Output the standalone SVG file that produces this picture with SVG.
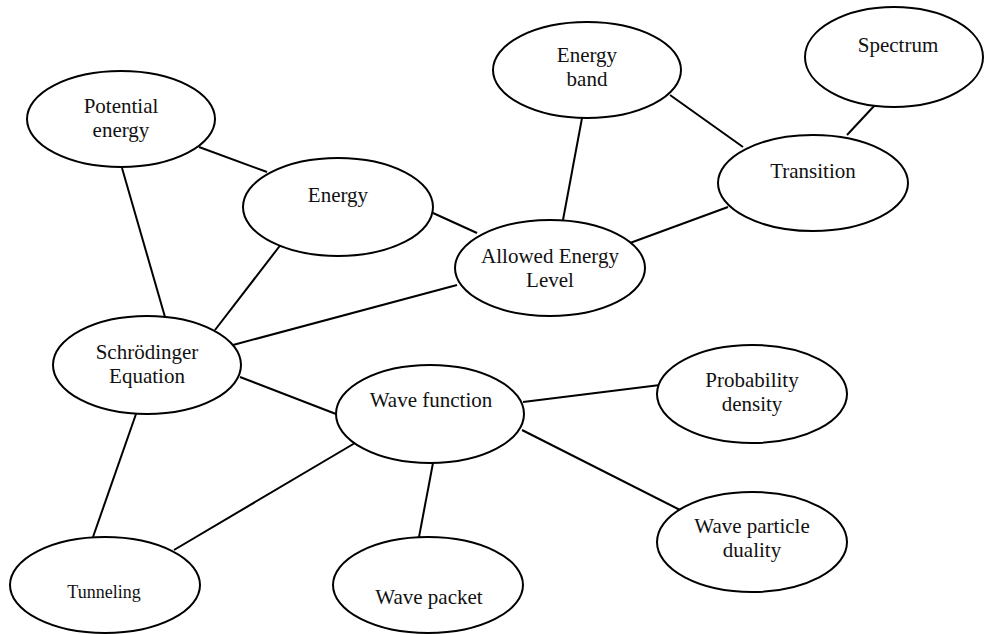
<svg xmlns="http://www.w3.org/2000/svg" width="984" height="634" viewBox="0 0 984 634">
<style>
.n ellipse{fill:#fff;stroke:#000;stroke-width:2}
.n text{font-family:"Liberation Serif","Times New Roman",serif;font-size:21px;fill:#111;text-anchor:middle}
.n text.s{font-size:18px}
#edges line{stroke:#000;stroke-width:2}
</style>
<rect width="984" height="634" fill="#fff"/>
<g id="edges">
<line x1="199" y1="147" x2="267" y2="172"/>
<line x1="122" y1="168" x2="165" y2="317"/>
<line x1="282" y1="243" x2="215" y2="330"/>
<line x1="433" y1="213" x2="477" y2="233"/>
<line x1="582" y1="118" x2="563" y2="220"/>
<line x1="670" y1="95" x2="743" y2="147"/>
<line x1="875" y1="105" x2="847" y2="135"/>
<line x1="630" y1="243" x2="728" y2="207"/>
<line x1="233" y1="345" x2="457" y2="285"/>
<line x1="240" y1="377" x2="336" y2="414"/>
<line x1="136" y1="414" x2="93" y2="537"/>
<line x1="355" y1="443" x2="174" y2="550"/>
<line x1="433" y1="463" x2="419" y2="537"/>
<line x1="523" y1="402" x2="660" y2="385"/>
<line x1="522" y1="430" x2="680" y2="510"/>
</g>
<g id="potential" class="n"><ellipse cx="121" cy="119" rx="94" ry="48"/><text x="121" y="113">Potential</text><text x="121" y="137">energy</text></g>
<g id="energy" class="n"><ellipse cx="338" cy="207" rx="95" ry="49"/><text x="338" y="202">Energy</text></g>
<g id="energyband" class="n"><ellipse cx="587" cy="70" rx="94" ry="48"/><text x="587" y="62">Energy</text><text x="587" y="86">band</text></g>
<g id="spectrum" class="n"><ellipse cx="894" cy="57" rx="89" ry="50"/><text x="898" y="52">Spectrum</text></g>
<g id="transition" class="n"><ellipse cx="813" cy="183" rx="95" ry="48"/><text x="813" y="178">Transition</text></g>
<g id="allowed" class="n"><ellipse cx="550" cy="268" rx="95" ry="48"/><text x="550" y="263">Allowed Energy</text><text x="550" y="287">Level</text></g>
<g id="schrodinger" class="n"><ellipse cx="147" cy="365" rx="94" ry="49"/><text x="147" y="359">Schrödinger</text><text x="147" y="383">Equation</text></g>
<g id="wavefunction" class="n"><ellipse cx="430" cy="414" rx="94" ry="49"/><text x="431" y="407">Wave function</text></g>
<g id="probability" class="n"><ellipse cx="752" cy="394" rx="95" ry="49"/><text x="752" y="387">Probability</text><text x="752" y="411">density</text></g>
<g id="duality" class="n"><ellipse cx="752" cy="542" rx="95" ry="50"/><text x="752" y="533">Wave particle</text><text x="752" y="557">duality</text></g>
<g id="tunneling" class="n"><ellipse cx="105" cy="585" rx="95" ry="48"/><text class="s" x="104" y="598">Tunneling</text></g>
<g id="wavepacket" class="n"><ellipse cx="428" cy="585" rx="95" ry="48"/><text x="429" y="604">Wave packet</text></g>
</svg>
